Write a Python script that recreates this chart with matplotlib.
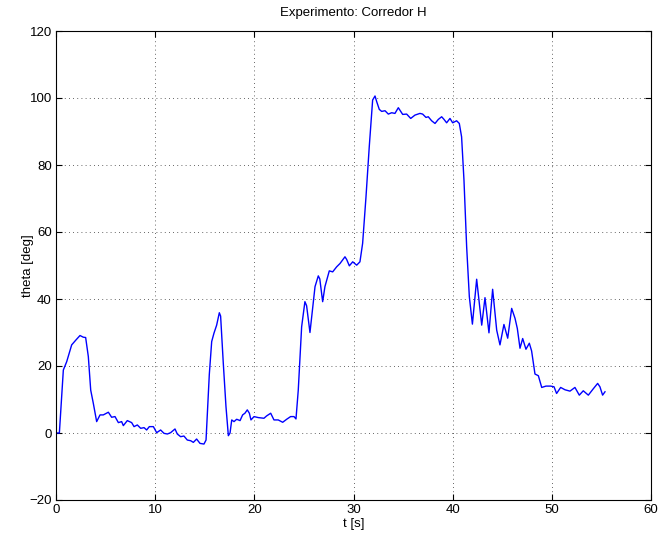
import matplotlib
matplotlib.use("Agg")
import matplotlib.pyplot as plt

t = [0.0, 0.34, 0.74, 1.08, 1.58, 2.02, 2.42, 2.75, 2.99, 3.26, 3.5, 3.76, 4.1, 4.44, 4.77,
     5.28, 5.61, 5.95, 6.29, 6.62, 6.79, 7.19, 7.63, 7.87, 8.2, 8.54, 8.88, 9.14, 9.41, 9.82,
     10.15, 10.55, 10.89, 11.23, 11.56, 12.0, 12.23, 12.57, 12.9, 13.24, 13.58, 13.85, 14.18,
     14.52, 14.92, 15.13, 15.46, 15.7, 15.93, 16.2, 16.47, 16.6, 16.87, 17.14, 17.38, 17.55,
     17.72, 17.95, 18.22, 18.56, 18.82, 19.05, 19.29, 19.5, 19.66, 19.97, 20.4, 20.97, 21.24,
     21.65, 21.98, 22.41, 22.86, 23.26, 23.66, 24.0, 24.2, 24.43, 24.77, 25.1, 25.27, 25.61,
     26.12, 26.45, 26.6, 26.89, 27.12, 27.56, 27.9, 28.3, 28.64, 29.14, 29.31, 29.58, 29.92,
     30.32, 30.65, 30.92, 31.26, 31.59, 31.93, 32.17, 32.34, 32.6, 32.84, 33.18, 33.51, 33.85,
     34.18, 34.52, 34.96, 35.36, 35.77, 36.2, 36.7, 36.97, 37.31, 37.54, 37.88, 38.22, 38.55,
     38.89, 39.13, 39.39, 39.73, 40.0, 40.4, 40.67, 40.9, 41.14, 41.41, 41.68, 41.99, 42.42,
     42.93, 43.26, 43.66, 44.03, 44.44, 44.77, 45.17, 45.55, 45.95, 46.29, 46.52, 46.79, 47.06,
     47.39, 47.73, 47.96, 48.3, 48.64, 48.98, 49.41, 49.88, 50.22, 50.48, 50.89, 51.33, 51.83,
     52.33, 52.77, 53.17, 53.68, 54.18, 54.62, 54.85, 55.12, 55.36]
theta = [0.0, 0.0, 18.8, 21.3, 26.3, 27.8, 29.1, 28.6, 28.5, 22.8, 12.8, 8.9, 3.4, 5.4, 5.4,
         6.2, 4.7, 4.9, 3.1, 3.4, 2.2, 3.7, 3.1, 1.9, 2.4, 1.4, 1.6, 0.9, 1.9, 1.9,
         0.1, 0.9, -0.1, -0.3, 0.1, 1.2, -0.3, -1.1, -0.9, -2.1, -2.3, -2.8, -1.8,
         -3.1, -3.3, -2.1, 17.5, 27.3, 29.8, 32.2, 35.9, 34.9, 20.8, 7.9, -0.8, 0.0,
         3.9, 3.4, 4.1, 3.7, 5.4, 5.9, 6.9, 5.9, 3.9, 4.9, 4.6, 4.4, 5.1,
         5.9, 3.9, 3.9, 3.2, 4.1, 4.9, 4.9, 4.2, 12.8, 31.7, 39.2, 38.0, 30.0,
         43.7, 46.9, 46.0, 39.2, 43.7, 48.4, 48.1, 49.6, 50.6, 52.6, 51.8, 49.9, 51.1,
         50.1, 51.1, 56.6, 70.5, 85.5, 99.4, 100.6, 98.9, 96.6, 96.0, 96.2, 95.2, 95.6,
         95.4, 97.1, 95.1, 95.2, 93.9, 94.9, 95.4, 95.2, 94.2, 94.4, 93.2, 92.4, 93.6,
         94.4, 93.6, 92.6, 93.9, 92.6, 93.2, 92.4, 88.4, 75.5, 55.6, 40.7, 32.5, 45.9,
         32.2, 40.4, 29.9, 42.9, 30.7, 26.3, 32.4, 28.3, 37.2, 34.2, 31.2, 25.3, 28.2,
         25.0, 26.8, 24.5, 17.6, 17.1, 13.6, 14.0, 14.0, 13.8, 11.8, 13.6, 12.9, 12.5,
         13.6, 11.3, 12.6, 11.3, 13.2, 14.8, 13.8, 11.3, 12.3]

xticks = [0, 10, 20, 30, 40, 50, 60]
yticks = [-20, 0, 20, 40, 60, 80, 100, 120]

plt.rcParams['font.family'] = ['Liberation Sans', 'DejaVu Sans']
plt.rcParams['axes.unicode_minus'] = True

fig = plt.figure(figsize=(6.58, 5.39), dpi=100)
ax = fig.add_axes([56/658, 1 - 500/539, (651 - 56)/658, (500 - 31)/539])
ax.plot(t, theta, color='#0000ff', linewidth=1.0)
ax.set_xlim(0, 60)
ax.set_ylim(-20, 120)
ax.set_xticks(xticks)
ax.set_yticks(yticks)
ax.grid(True, linestyle=(0, (1, 4)), color='#333333', linewidth=0.6)
ax.tick_params(direction='in', length=4, width=0.8, labelsize=9.5, top=True, right=True,
               colors='black', pad=3)
for s in ax.spines.values():
    s.set_linewidth(0.8)
ax.set_title('Experimento: Corredor H', fontsize=9.5, pad=10.5)
ax.set_xlabel('t [s]', fontsize=9.5, labelpad=1)
ax.set_ylabel('theta [deg]', fontsize=9.5, labelpad=-3)
fig.savefig('out.png', dpi=100)
